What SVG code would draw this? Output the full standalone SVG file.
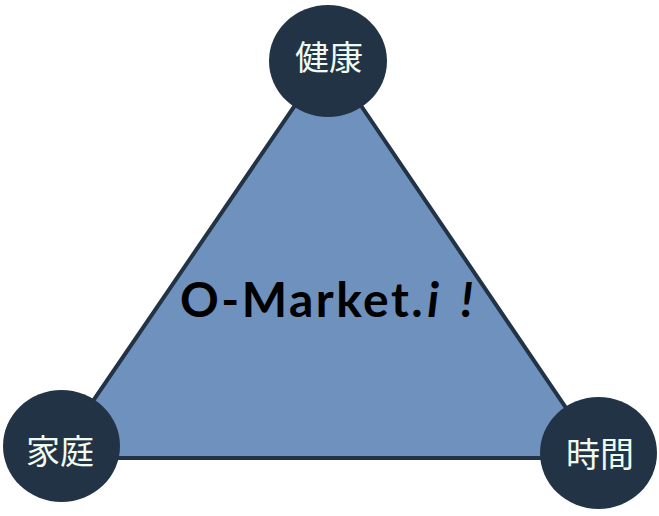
<svg xmlns="http://www.w3.org/2000/svg" width="659" height="516" viewBox="0 0 659 516">
<style>
.node ellipse{fill:#223346}
.lbl{font-family:"Noto Sans CJK JP","Noto Sans CJK SC",sans-serif;font-size:34px;fill:#f0fbef;text-anchor:middle;dominant-baseline:central}
.main{font-family:"Lato","Liberation Sans",sans-serif;font-weight:bold;font-size:48px;fill:#000;letter-spacing:2.5px}
</style>
<rect width="659" height="516" fill="#fff"/>
<g id="connectors">
<polygon points="328,57 54,458 600,458" fill="#6f91bd" stroke="#223346" stroke-width="4" stroke-linejoin="miter"/>
</g>
<g id="center">
<text class="main" x="180" y="317">O-Market.<tspan font-style="italic" dx="2">i</tspan><tspan font-style="italic" dx="19">!</tspan></text>
</g>
<g id="node-health" class="node">
<ellipse cx="328" cy="61" rx="59" ry="56"/>
<text class="lbl" x="329" y="55">健康</text>
</g>
<g id="node-family" class="node">
<ellipse cx="61.5" cy="446" rx="58.5" ry="56"/>
<text class="lbl" x="60" y="449">家庭</text>
</g>
<g id="node-time" class="node">
<ellipse cx="598.5" cy="453" rx="58.5" ry="56"/>
<text class="lbl" x="600" y="452">時間</text>
</g>
</svg>
